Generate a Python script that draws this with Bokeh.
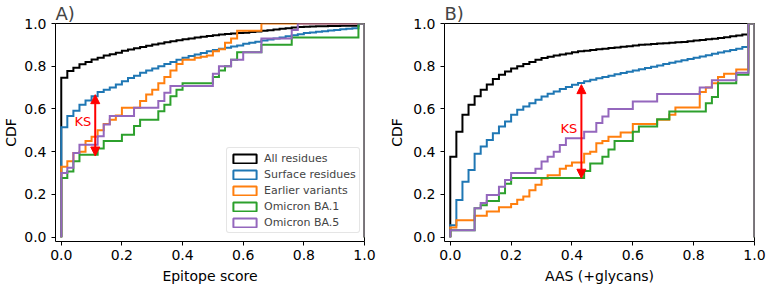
import numpy as np
from bokeh.plotting import figure
from bokeh.layouts import row
from bokeh.models import (Range1d, FixedTicker, NumeralTickFormatter, Label, Arrow,
                          NormalHead, Legend, LegendItem, ColumnDataSource)
from bokeh.embed import file_html
from bokeh.resources import INLINE

# ---------------- data ----------------
bin_edges = np.round(np.arange(0, 51) * 0.02, 2)
series_names = ["All residues", "Surface residues", "Earlier variants", "Omicron BA.1", "Omicron BA.5"]
series_colors = ["#000000", "#1f77b4", "#ff7f0e", "#2ca02c", "#9467bd"]
tick_values = [0.0, 0.2, 0.4, 0.6, 0.8, 1.0]

# Panel A: cumulative fraction per bin (Epitope score)
a_all = [0.746, 0.778, 0.793, 0.809, 0.82, 0.832, 0.84, 0.85, 0.856, 0.863,
         0.872, 0.878, 0.884, 0.89, 0.896, 0.902, 0.907, 0.912, 0.917, 0.922,
         0.926, 0.93, 0.934, 0.938, 0.942, 0.945, 0.948, 0.951, 0.953, 0.955,
         0.957, 0.96, 0.963, 0.966, 0.969, 0.972, 0.975, 0.978, 0.981, 0.984,
         0.985, 0.986, 0.987, 0.987, 0.988, 0.988, 0.989, 0.989, 0.99, 1.0]
a_surface = [0.515, 0.567, 0.592, 0.62, 0.64, 0.66, 0.68, 0.69, 0.70, 0.715,
             0.73, 0.745, 0.755, 0.77, 0.78, 0.79, 0.80, 0.81, 0.82, 0.83,
             0.84, 0.848, 0.855, 0.862, 0.87, 0.876, 0.882, 0.887, 0.892, 0.897,
             0.905, 0.91, 0.915, 0.92, 0.925, 0.93, 0.935, 0.94, 0.945, 0.95,
             0.955, 0.958, 0.961, 0.964, 0.967, 0.97, 0.973, 0.975, 0.978, 1.0]
a_earlier = [0.33, 0.355, 0.394, 0.40, 0.45, 0.47, 0.50, 0.53, 0.55, 0.57,
             0.606, 0.606, 0.606, 0.637, 0.668, 0.69, 0.72, 0.75, 0.78, 0.81,
             0.83, 0.83, 0.84, 0.845, 0.85, 0.87, 0.88, 0.91, 0.93, 0.966,
             0.966, 0.966, 0.966, 1.0, 1.0, 1.0, 1.0, 1.0, 1.0, 1.0,
             1.0, 1.0, 1.0, 1.0, 1.0, 1.0, 1.0, 1.0, 1.0, 1.0]
a_ba1 = [0.277, 0.308, 0.355, 0.386, 0.386, 0.386, 0.415, 0.45, 0.45, 0.45,
         0.48, 0.48, 0.52, 0.55, 0.55, 0.55, 0.59, 0.62, 0.66, 0.69,
         0.72, 0.72, 0.72, 0.72, 0.72, 0.75, 0.78, 0.80, 0.83, 0.865,
         0.865, 0.865, 0.865, 0.90, 0.90, 0.90, 0.90, 0.90, 0.934, 0.934,
         0.934, 0.934, 0.934, 0.934, 0.934, 0.934, 0.934, 0.934, 0.934, 1.0]
a_ba5 = [0.30, 0.325, 0.394, 0.433, 0.433, 0.433, 0.473, 0.527, 0.567, 0.567,
         0.567, 0.567, 0.606, 0.606, 0.606, 0.606, 0.637, 0.676, 0.707, 0.707,
         0.707, 0.707, 0.707, 0.707, 0.707, 0.765, 0.80, 0.80, 0.83, 0.83,
         0.865, 0.865, 0.865, 0.93, 0.93, 0.93, 0.93, 0.93, 0.97, 1.0,
         1.0, 1.0, 1.0, 1.0, 1.0, 1.0, 1.0, 1.0, 1.0, 1.0]

# Panel B: cumulative fraction per bin (AAS +glycans)
b_all = [0.377, 0.494, 0.573, 0.62, 0.66, 0.69, 0.715, 0.74, 0.76, 0.775,
         0.79, 0.80, 0.81, 0.82, 0.83, 0.838, 0.845, 0.85, 0.855, 0.86,
         0.865, 0.87, 0.873, 0.876, 0.879, 0.882, 0.885, 0.888, 0.891, 0.894,
         0.897, 0.90, 0.902, 0.904, 0.906, 0.908, 0.91, 0.912, 0.914, 0.917,
         0.92, 0.923, 0.926, 0.929, 0.932, 0.936, 0.94, 0.944, 0.948, 1.0]
b_surface = [0.056, 0.174, 0.26, 0.315, 0.39, 0.424, 0.455, 0.487, 0.518, 0.541,
             0.573, 0.596, 0.612, 0.627, 0.643, 0.659, 0.671, 0.682, 0.693, 0.703,
             0.713, 0.722, 0.73, 0.737, 0.744, 0.75, 0.756, 0.762, 0.768, 0.774,
             0.78, 0.786, 0.792, 0.798, 0.804, 0.81, 0.816, 0.822, 0.828, 0.834,
             0.84, 0.846, 0.852, 0.858, 0.864, 0.87, 0.876, 0.882, 0.89, 1.0]
b_earlier = [0.045, 0.08, 0.08, 0.08, 0.10, 0.10, 0.12, 0.12, 0.14, 0.14,
             0.155, 0.175, 0.19, 0.22, 0.245, 0.275, 0.29, 0.29, 0.32, 0.335,
             0.35, 0.35, 0.39, 0.40, 0.44, 0.45, 0.47, 0.47, 0.49, 0.49,
             0.53, 0.53, 0.53, 0.53, 0.55, 0.55, 0.573, 0.607, 0.607, 0.607,
             0.607, 0.68, 0.70, 0.72, 0.75, 0.765, 0.765, 0.785, 0.785, 1.0]
b_ba1 = [0.033, 0.033, 0.033, 0.033, 0.136, 0.15, 0.17, 0.17, 0.206, 0.25,
         0.277, 0.277, 0.277, 0.277, 0.277, 0.277, 0.277, 0.277, 0.277, 0.277,
         0.277, 0.277, 0.31, 0.345, 0.345, 0.377, 0.41, 0.45, 0.45, 0.45,
         0.494, 0.518, 0.518, 0.518, 0.552, 0.552, 0.588, 0.588, 0.588, 0.588,
         0.588, 0.588, 0.627, 0.656, 0.72, 0.72, 0.72, 0.76, 0.76, 1.0]
b_ba5 = [0.033, 0.033, 0.033, 0.033, 0.136, 0.16, 0.197, 0.197, 0.236, 0.268,
         0.30, 0.30, 0.30, 0.30, 0.32, 0.354, 0.377, 0.40, 0.432, 0.463,
         0.463, 0.463, 0.494, 0.494, 0.534, 0.565, 0.60, 0.60, 0.60, 0.60,
         0.635, 0.635, 0.635, 0.635, 0.67, 0.67, 0.67, 0.67, 0.67, 0.67,
         0.67, 0.70, 0.70, 0.734, 0.734, 0.734, 0.734, 0.77, 0.77, 1.0]

# KS annotation values (x position, lower and upper CDF, text position)
a_ks = dict(x=0.112, y0=0.38, y1=0.667, tx=0.071, ty=0.54)
b_ks = dict(x=0.431, y0=0.276, y1=0.714, tx=0.39, ty=0.51)

FONT = "DejaVu Sans"


def step_xy(values):
    xs = np.repeat(bin_edges, 2)
    ys = np.concatenate(([0.0], np.repeat(np.asarray(values, float), 2), [0.0]))
    return xs, ys


def make_panel(letter, xlabel, series, ks, bl, br, ylab_standoff, with_legend):
    p = figure(width=384, height=286, output_backend="svg", toolbar_location=None,
               x_range=Range1d(-0.019, 1.0), y_range=Range1d(-0.02, 1.0),
               min_border_left=bl, min_border_right=br, min_border_top=0,
               min_border_bottom=45, title=letter)
    p.title.text_font = FONT
    p.title.text_font_size = "18px"
    p.title.text_font_style = "normal"
    p.title.align = "left"
    p.title.standoff = 0
    p.title.offset = 0
    p.background_fill_color = "white"
    p.border_fill_color = "white"
    p.outline_line_color = "black"
    p.outline_line_width = 1
    p.xgrid.visible = False
    p.ygrid.visible = False
    for ax in (p.xaxis[0], p.yaxis[0]):
        ax.ticker = FixedTicker(ticks=tick_values)
        ax.formatter = NumeralTickFormatter(format="0.0")
        ax.axis_line_color = None
        ax.major_tick_line_color = "black"
        ax.major_tick_out = 4
        ax.major_tick_in = 0
        ax.minor_tick_line_color = None
        ax.major_label_text_font = FONT
        ax.major_label_text_font_size = "14px"
        ax.major_label_text_color = "black"
        ax.major_label_standoff = 4
        ax.axis_label_text_font = FONT
        ax.axis_label_text_font_size = "14px"
        ax.axis_label_text_font_style = "normal"
        ax.axis_label_text_color = "black"
        ax.axis_label_standoff = 5
    p.xaxis.axis_label = xlabel
    p.yaxis.axis_label = "CDF"
    p.yaxis.major_label_standoff = 5
    p.yaxis.axis_label_standoff = ylab_standoff

    items = []
    for name, color, vals in zip(series_names, series_colors, series):
        xs, ys = step_xy(vals)
        p.line(xs, ys, line_color=color, line_width=2, line_join="miter")
        if with_legend:
            src = ColumnDataSource(dict(l=[np.nan], r=[np.nan], b=[np.nan], t=[np.nan]))
            r = p.quad(left="l", right="r", bottom="b", top="t", source=src,
                       fill_alpha=0, fill_color="white", line_color=color, line_width=2)
            items.append(LegendItem(label=name, renderers=[r]))

    p.add_layout(Arrow(start=NormalHead(size=9, fill_color="red", line_color="red"),
                       end=NormalHead(size=9, fill_color="red", line_color="red"),
                       x_start=ks["x"], y_start=ks["y0"], x_end=ks["x"], y_end=ks["y1"],
                       line_color="red", line_width=2))
    p.add_layout(Label(x=ks["tx"], y=ks["ty"], text="KS", text_color="red",
                       text_font=FONT, text_font_size="13px",
                       text_align="center", text_baseline="middle"))

    if with_legend:
        leg = Legend(items=items, location=(171, 8))
        leg.label_text_font = FONT
        leg.label_text_font_size = "11px"
        leg.glyph_width = 29
        leg.glyph_height = 11
        leg.label_height = 14
        leg.label_standoff = 5
        leg.spacing = 2
        leg.padding = 3
        leg.margin = 0
        leg.border_line_color = "#cccccc"
        leg.border_line_width = 1
        leg.border_radius = 3
        leg.background_fill_alpha = 0.8
        p.add_layout(leg, "center")
    return p


pa = make_panel("A)", "Epitope score", [a_all, a_surface, a_earlier, a_ba1, a_ba5],
                a_ks, 54, 20, 2, True)
pb = make_panel("B)", "AAS (+glycans)", [b_all, b_surface, b_earlier, b_ba1, b_ba5],
                b_ks, 60, 14, 5, False)

layout = row(pa, pb, spacing=0)
open("out.html", "w").write(file_html(layout, INLINE))
